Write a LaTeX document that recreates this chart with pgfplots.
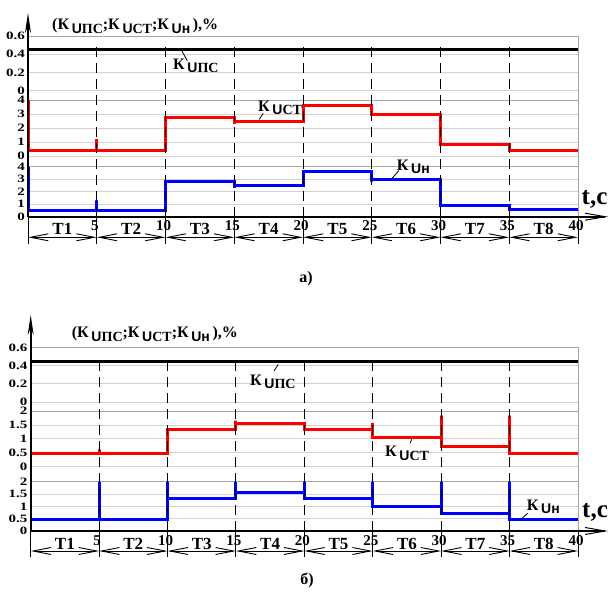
\documentclass[border=0pt]{standalone}
\usepackage{graphicx}
\usepackage{pgfplots}
\pgfplotsset{compat=1.18}
\usetikzlibrary{arrows.meta}
\usepackage{fontspec}
\setmainfont{Liberation Serif}
\setsansfont{Liberation Sans}
\newcommand{\sq}[1]{\scalebox{1}[0.75]{#1}}
\newcommand{\Kl}[1]{К\,\raisebox{-0.45ex}{\fontsize{14}{14}\selectfont #1}}
\newcommand{\UPS}{\textsf{U}ПС}
\newcommand{\UST}{\textsf{U}СТ}
\newcommand{\UN}{\textsf{Uн}}
\pgfplotsset{
  sec/.style={scale only axis, xmin=0, xmax=40, xtick=\empty, ymajorgrids,
    grid style={gray!35, line width=0.8pt},
    axis line style={gray!70, line width=0.7pt},
    major tick length=0pt,
    yticklabel style={font=\bfseries\fontsize{15}{15}\selectfont, inner sep=0pt, xshift=-3pt},
    clip=false},
  xlab/.style={xtick={5,10,...,40},
    xticklabel style={font=\bfseries\fontsize{15}{15}\selectfont, inner sep=0pt, yshift=-4pt, xshift=-2pt},
    /pgf/number format/assume math mode=true},
}
\tikzset{
  dimarr/.style={line width=0.9pt, {Straight Barb[length=18pt,width=7pt]}-{Straight Barb[length=18pt,width=7pt]}},
  dsh/.style={black, line width=0.9pt, dash pattern=on 10pt off 6pt},
  tl/.style={anchor=base, font=\bfseries\fontsize{17}{17}\selectfont, inner sep=0pt},
  lab/.style={anchor=west, font=\bfseries\fontsize{16}{16}\selectfont, inner sep=0pt},
}
\begin{document}
\begin{tikzpicture}
\useasboundingbox (0pt,0pt) rectangle (609pt,594pt);

% ================= panel a =================
\begin{axis}[sec, name=a1, at={(28pt,494pt)}, anchor=south west, width=550pt, height=64pt,
  ymin=-0.1, ymax=0.6, ytick={0,0.2,0.4,0.6}, yticklabels={\sq{0},\sq{0.2},\sq{0.4},\sq{0.6}}]
\addplot[black, line width=3.2pt] coordinates {(0,0.45) (40,0.45)};
\end{axis}

\begin{axis}[sec, name=a2, at={(28pt,427.3pt)}, anchor=south west, width=550pt, height=66.7pt,
  ymin=-0.76, ymax=4, ytick={0,1,2,3,4}, yticklabels={\sq{0},\sq{1},\sq{2},\sq{3},\sq{4}}]
\addplot[red, line width=3pt] coordinates {(0,4) (0,0.43) (5,0.43) (5,1.2) (5,0.43) (10,0.43) (10,2.72) (15,2.72) (15,2.3) (15,2.45) (20,2.45) (20,3.59) (25,3.59) (25,2.93) (30,2.93) (30,0.84) (35,0.84) (35,0.38) (40,0.38)};
\end{axis}

\begin{axis}[sec, xlab, name=a3, at={(28pt,377.3pt)}, anchor=south west, width=550pt, height=50pt,
  ymin=0, ymax=4, ytick={0,1,2,3,4}, yticklabels={\sq{0},\sq{1},\sq{2},\sq{3},\sq{4}}]
\addplot[blue, line width=3pt] coordinates {(0,4) (0,0.53) (5,0.53) (5,1.3) (5,0.53) (10,0.53) (10,2.8) (15,2.8) (15,2.3) (15,2.5) (20,2.5) (20,3.64) (25,3.64) (25,2.8) (25,2.94) (30,2.94) (30,0.88) (35,0.88) (35,0.54) (40,0.54)};
\pgfplotsinvokeforeach{5,10,...,35}{\draw[dsh] (axis cs:#1,0) -- ([yshift=173.7pt]axis cs:#1,0);}
\pgfplotsinvokeforeach{0,5,...,40}{\draw[black, line width=0.9pt] (axis cs:#1,0) -- ([yshift=-27.3pt]axis cs:#1,0);}
\pgfplotsinvokeforeach{0,5,...,35}{\draw[dimarr] ([yshift=-20.6pt]axis cs:#1,0) -- ++(68.75pt,0);}
\node[tl] at ([yshift=-18.3pt]axis cs:2.5,0) {T1};
\node[tl] at ([yshift=-18.3pt]axis cs:7.5,0) {T2};
\node[tl] at ([yshift=-18.3pt]axis cs:12.5,0) {T3};
\node[tl] at ([yshift=-18.3pt]axis cs:17.5,0) {T4};
\node[tl] at ([yshift=-18.3pt]axis cs:22.5,0) {T5};
\node[tl] at ([yshift=-18.3pt]axis cs:27.5,0) {T6};
\node[tl] at ([yshift=-18.3pt]axis cs:32.5,0) {T7};
\node[tl] at ([yshift=-18.3pt]axis cs:37.5,0) {T8};
\end{axis}

\draw[line width=2pt, -{Straight Barb[length=20pt,width=7pt,line width=1pt]}] (a3.south west) -- ++(580pt,0);
\draw[line width=2pt, -{Stealth[length=20pt,width=6pt]}] (a3.south west) -- ([yshift=23pt]a1.north west);

\node[lab] at (52pt,568pt) {(\Kl{\UPS};\Kl{\UST};\Kl{\UN}\,),\%};
\node[lab] at (173pt,528pt) {\Kl{\UPS}};
\draw[line width=0.8pt] (181.7pt,543.3pt) -- (187.3pt,533.3pt);
\node[lab] at (258pt,486pt) {\Kl{\UST}};
\draw[line width=0.8pt] (263.3pt,480.7pt) -- (259.3pt,474.7pt);
\node[lab] at (396.7pt,427.3pt) {\Kl{\UN}};
\draw[line width=0.8pt] (398.7pt,423.3pt) -- (391.7pt,415.3pt);
\node[font=\bfseries\fontsize{25}{25}\selectfont, inner sep=0pt] at (594.5pt,395pt) {t,c};
\node[font=\bfseries\fontsize{16}{16}\selectfont, inner sep=0pt] at (306pt,315pt) {а)};

% ================= panel b =================
\begin{axis}[sec, name=b1, at={(30.7pt,183pt)}, anchor=south west, width=547.3pt, height=63.3pt,
  ymin=-0.1, ymax=0.6, ytick={0,0.2,0.4,0.6}, yticklabels={\sq{0},\sq{0.2},\sq{0.4},\sq{0.6}}]
\addplot[black, line width=3.2pt] coordinates {(0,0.45) (40,0.45)};
\end{axis}

\begin{axis}[sec, name=b2, at={(30.7pt,112.3pt)}, anchor=south west, width=547.3pt, height=70.7pt,
  ymin=-0.54, ymax=2, ytick={0,0.5,1,1.5,2}, yticklabels={\sq{0},\sq{0.5},\sq{1},\sq{1.5},\sq{2}}]
\addplot[red, line width=3pt] coordinates {(0,0.47) (5,0.47) (5,0.62) (5,0.47) (10,0.47) (10,1.34) (15,1.34) (15,1.65) (15,1.54) (20,1.54) (20,1.32) (25,1.32) (25,1.57) (25,1.03) (30,1.03) (30,1.83) (30,0.74) (35,0.74) (35,1.83) (35,0.48) (40,0.48)};
\end{axis}

\begin{axis}[sec, xlab, name=b3, at={(30.7pt,63pt)}, anchor=south west, width=547.3pt, height=49.3pt,
  ymin=0, ymax=2, ytick={0,0.5,1,1.5,2}, yticklabels={\sq{0},\sq{0.5},\sq{1},\sq{1.5},\sq{2}}]
\addplot[blue, line width=3pt] coordinates {(0,0.45) (5,0.45) (5,2) (5,0.45) (10,0.45) (10,2) (10,1.3) (15,1.3) (15,2) (15,1.55) (20,1.55) (20,2) (20,1.3) (25,1.3) (25,2) (25,1.01) (30,1.01) (30,2) (30,0.72) (35,0.72) (35,2) (35,0.45) (40,0.45)};
\pgfplotsinvokeforeach{5,10,...,35}{\draw[dsh] (axis cs:#1,0) -- ([yshift=174.3pt]axis cs:#1,0);}
\pgfplotsinvokeforeach{0,5,...,40}{\draw[black, line width=0.9pt] (axis cs:#1,0) -- ([yshift=-25.7pt]axis cs:#1,0);}
\pgfplotsinvokeforeach{0,5,...,35}{\draw[dimarr] ([yshift=-20pt]axis cs:#1,0) -- ++(68.41pt,0);}
\node[tl] at ([yshift=-18pt]axis cs:2.5,0) {T1};
\node[tl] at ([yshift=-18pt]axis cs:7.5,0) {T2};
\node[tl] at ([yshift=-18pt]axis cs:12.5,0) {T3};
\node[tl] at ([yshift=-18pt]axis cs:17.5,0) {T4};
\node[tl] at ([yshift=-18pt]axis cs:22.5,0) {T5};
\node[tl] at ([yshift=-18pt]axis cs:27.5,0) {T6};
\node[tl] at ([yshift=-18pt]axis cs:32.5,0) {T7};
\node[tl] at ([yshift=-18pt]axis cs:37.5,0) {T8};
\end{axis}

\draw[line width=2pt, -{Straight Barb[length=20pt,width=7pt,line width=1pt]}] (b3.south west) -- ++(577.3pt,0);
\draw[line width=2pt, -{Stealth[length=20pt,width=6pt]}] (b3.south west) -- ([yshift=32.7pt]b1.north west);

\node[lab] at (71.7pt,260pt) {(\Kl{\UPS};\Kl{\UST};\Kl{\UN}\,),\%};
\node[lab] at (250pt,212pt) {\Kl{\UPS}};
\draw[line width=0.8pt] (278.3pt,229.7pt) -- (274pt,223pt);
\node[lab] at (385pt,140.7pt) {\Kl{\UST}};
\draw[line width=0.8pt] (411.7pt,154.7pt) -- (410pt,150.7pt);
\node[lab] at (526.7pt,87.3pt) {\Kl{\UN}};
\draw[line width=0.8pt] (527.7pt,80.7pt) -- (520pt,74pt);
\node[font=\bfseries\fontsize{25}{25}\selectfont, inner sep=0pt] at (595pt,82pt) {t,c};
\node[font=\bfseries\fontsize{16}{16}\selectfont, inner sep=0pt] at (307pt,14pt) {б)};
\end{tikzpicture}
\end{document}
